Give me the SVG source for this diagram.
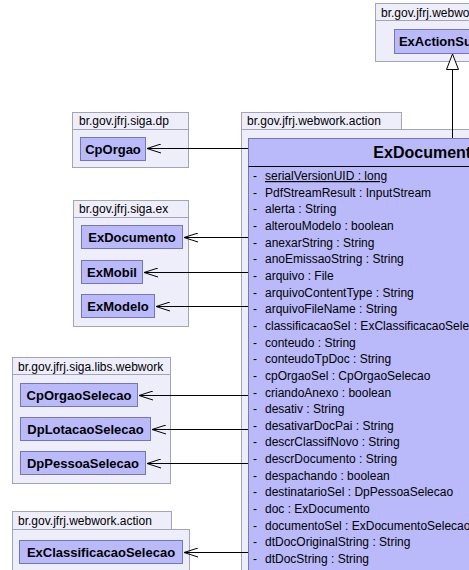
<svg xmlns="http://www.w3.org/2000/svg" width="469" height="570" viewBox="0 0 469 570">
<style>
.pkg{fill:#EEEEFB;stroke:#A4A4B8;stroke-width:1}
.pl{font-family:"Liberation Sans",Arial,sans-serif;font-size:12px;fill:#000}
.cls{fill:#BABAFA;stroke:#7676B4;stroke-width:1}
.cn{font-family:"Liberation Sans",Arial,sans-serif;font-size:13px;font-weight:bold;fill:#000;text-anchor:middle}
.hd{font-family:"Liberation Sans",Arial,sans-serif;font-size:16px;font-weight:bold;fill:#000;text-anchor:middle}
.at{font-family:"Liberation Sans",Arial,sans-serif;font-size:12px;fill:#000}
.ln{fill:none;stroke:#000;stroke-width:1}
</style>
<defs>
<marker id="open" viewBox="0 0 14 10" refX="14" refY="5" markerWidth="14" markerHeight="10" markerUnits="userSpaceOnUse" orient="auto">
<path d="M0,0.5 L14,5 L0,9.5" fill="none" stroke="#000" stroke-width="1"/>
</marker>
</defs>

<g id="pkg-webwork-top">
<rect class="pkg" x="375.5" y="3.5" width="120" height="17"/>
<rect class="pkg" x="375.5" y="20.5" width="120" height="41"/>
<text class="pl" x="381" y="17">br.gov.jfrj.webwork.action</text>
</g>
<g id="ExActionSupport">
<rect class="cls" x="394.5" y="29.5" width="116" height="24"/>
<text class="cn" x="452" y="46">ExActionSupport</text>
</g>

<g id="pkg-siga-dp">
<rect class="pkg" x="72.5" y="112.5" width="116" height="17"/>
<rect class="pkg" x="72.5" y="129.5" width="116" height="38"/>
<text class="pl" x="79" y="125">br.gov.jfrj.siga.dp</text>
</g>
<g id="CpOrgao">
<rect class="cls" x="80.5" y="137.5" width="65" height="23"/>
<text class="cn" x="113" y="153.5">CpOrgao</text>
</g>

<g id="pkg-siga-ex">
<rect class="pkg" x="73.5" y="200.5" width="115" height="17"/>
<rect class="pkg" x="73.5" y="217.5" width="115" height="109"/>
<text class="pl" x="79" y="213">br.gov.jfrj.siga.ex</text>
</g>
<g id="ExDocumento">
<rect class="cls" x="81.5" y="225.5" width="101" height="23"/>
<text class="cn" x="132" y="241.5">ExDocumento</text>
</g>
<g id="ExMobil">
<rect class="cls" x="81.5" y="260.5" width="61" height="23"/>
<text class="cn" x="112" y="276.5">ExMobil</text>
</g>
<g id="ExModelo">
<rect class="cls" x="81.5" y="294.5" width="73" height="23"/>
<text class="cn" x="118" y="310.5">ExModelo</text>
</g>

<g id="pkg-siga-libs-webwork">
<rect class="pkg" x="12.5" y="357.5" width="158" height="17"/>
<rect class="pkg" x="12.5" y="374.5" width="158" height="109"/>
<text class="pl" x="18" y="371">br.gov.jfrj.siga.libs.webwork</text>
</g>
<g id="CpOrgaoSelecao">
<rect class="cls" x="20.5" y="383.5" width="117" height="23"/>
<text class="cn" x="79" y="399.5">CpOrgaoSelecao</text>
</g>
<g id="DpLotacaoSelecao">
<rect class="cls" x="20.5" y="417.5" width="130" height="23"/>
<text class="cn" x="85.5" y="433.5">DpLotacaoSelecao</text>
</g>
<g id="DpPessoaSelecao">
<rect class="cls" x="20.5" y="451.5" width="125" height="23"/>
<text class="cn" x="83" y="467.5">DpPessoaSelecao</text>
</g>

<g id="pkg-webwork-action-bottom">
<rect class="pkg" x="12.5" y="511.5" width="159" height="18"/>
<rect class="pkg" x="12.5" y="529.5" width="177" height="60"/>
<text class="pl" x="18" y="525">br.gov.jfrj.webwork.action</text>
</g>
<g id="ExClassificacaoSelecao">
<rect class="cls" x="19.5" y="540.5" width="163" height="23"/>
<text class="cn" x="101" y="556.5">ExClassificacaoSelecao</text>
</g>

<g id="pkg-webwork-action-main">
<rect class="pkg" x="241.5" y="112.5" width="160" height="17"/>
<rect class="pkg" x="241.5" y="129.5" width="420" height="500"/>
<text class="pl" x="247" y="125">br.gov.jfrj.webwork.action</text>
</g>
<g id="ExDocumentoAction">
<rect class="cls" x="248.5" y="138.5" width="408" height="500" stroke="#5E5EA0"/>
<line x1="248.5" y1="166.5" x2="656.5" y2="166.5" stroke="#000" stroke-width="1"/>
<text class="hd" x="452" y="158">ExDocumentoAction</text>
<g class="at">
<text x="253" y="180">-</text><text x="265" y="180" text-decoration="underline">serialVersionUID : long</text>
<text x="253" y="196.7">-</text><text x="265" y="196.7">PdfStreamResult : InputStream</text>
<text x="253" y="213.3">-</text><text x="265" y="213.3">alerta : String</text>
<text x="253" y="230">-</text><text x="265" y="230">alterouModelo : boolean</text>
<text x="253" y="246.6">-</text><text x="265" y="246.6">anexarString : String</text>
<text x="253" y="263.3">-</text><text x="265" y="263.3">anoEmissaoString : String</text>
<text x="253" y="279.9">-</text><text x="265" y="279.9">arquivo : File</text>
<text x="253" y="296.6">-</text><text x="265" y="296.6">arquivoContentType : String</text>
<text x="253" y="313.2">-</text><text x="265" y="313.2">arquivoFileName : String</text>
<text x="253" y="329.9">-</text><text x="265" y="329.9">classificacaoSel : ExClassificacaoSelecao</text>
<text x="253" y="346.5">-</text><text x="265" y="346.5">conteudo : String</text>
<text x="253" y="363.2">-</text><text x="265" y="363.2">conteudoTpDoc : String</text>
<text x="253" y="379.8">-</text><text x="265" y="379.8">cpOrgaoSel : CpOrgaoSelecao</text>
<text x="253" y="396.5">-</text><text x="265" y="396.5">criandoAnexo : boolean</text>
<text x="253" y="413.1">-</text><text x="265" y="413.1">desativ : String</text>
<text x="253" y="429.8">-</text><text x="265" y="429.8">desativarDocPai : String</text>
<text x="253" y="446.4">-</text><text x="265" y="446.4">descrClassifNovo : String</text>
<text x="253" y="463.1">-</text><text x="265" y="463.1">descrDocumento : String</text>
<text x="253" y="479.7">-</text><text x="265" y="479.7">despachando : boolean</text>
<text x="253" y="496.4">-</text><text x="265" y="496.4">destinatarioSel : DpPessoaSelecao</text>
<text x="253" y="513">-</text><text x="265" y="513">doc : ExDocumento</text>
<text x="253" y="529.7">-</text><text x="265" y="529.7">documentoSel : ExDocumentoSelecao</text>
<text x="253" y="546.3">-</text><text x="265" y="546.3">dtDocOriginalString : String</text>
<text x="253" y="563">-</text><text x="265" y="563">dtDocString : String</text>
</g>
</g>

<g id="connectors">
<line class="ln" x1="452.5" y1="138" x2="452.5" y2="69"/>
<path d="M452.5,54 L446.5,69.5 L458.5,69.5 Z" fill="#fff" stroke="#000" stroke-width="1"/>
<line class="ln" x1="248" y1="148.5" x2="147" y2="148.5" marker-end="url(#open)"/>
<line class="ln" x1="248" y1="237.5" x2="184" y2="237.5" marker-end="url(#open)"/>
<line class="ln" x1="248" y1="272.5" x2="144" y2="272.5" marker-end="url(#open)"/>
<line class="ln" x1="248" y1="306.5" x2="156" y2="306.5" marker-end="url(#open)"/>
<line class="ln" x1="248" y1="395.5" x2="139" y2="395.5" marker-end="url(#open)"/>
<line class="ln" x1="248" y1="429.5" x2="152" y2="429.5" marker-end="url(#open)"/>
<line class="ln" x1="248" y1="463.5" x2="147" y2="463.5" marker-end="url(#open)"/>
<line class="ln" x1="248" y1="552.5" x2="184" y2="552.5" marker-end="url(#open)"/>
</g>
</svg>
